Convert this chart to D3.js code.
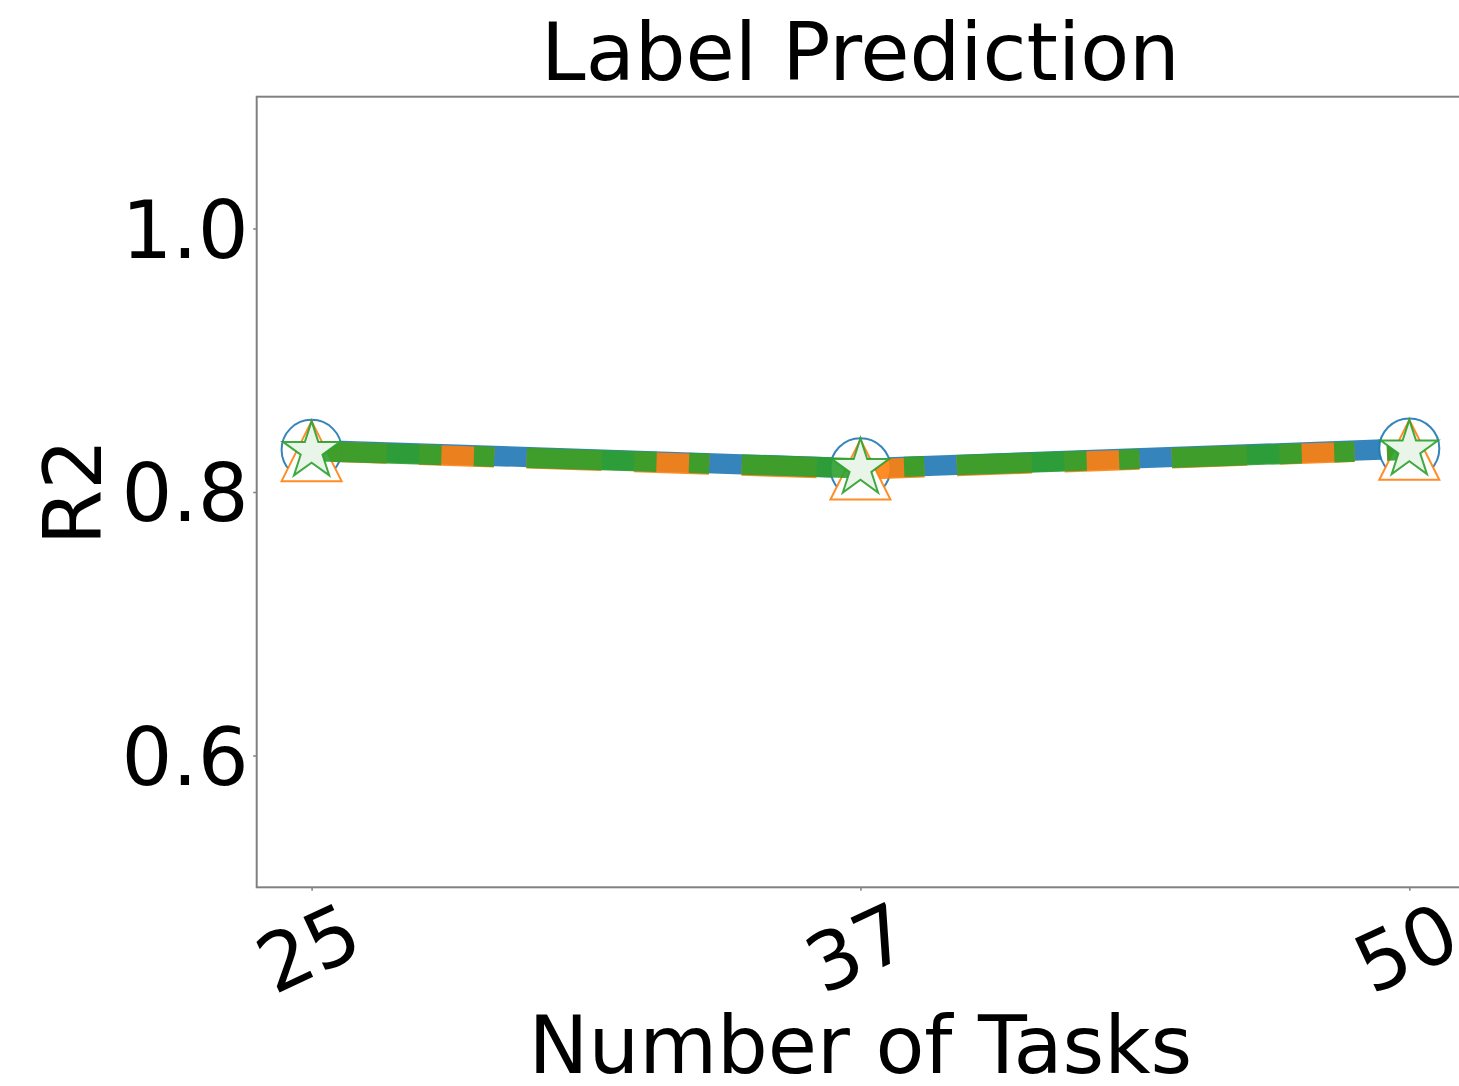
<!DOCTYPE html>
<html>
<head>
<meta charset="utf-8">
<script src="https://cdn.jsdelivr.net/npm/d3@7/dist/d3.min.js"></script>
<style>
  html, body { margin: 0; padding: 0; background: #fff; }
  svg { display: block; }
</style>
</head>
<body>
<svg id="chart" width="1459" height="1086"></svg>
<script>
// x categories (number of tasks) and the three R2 series
const taskCounts = ["25", "37", "50"];
const seriesA = [0.832, 0.818, 0.833];   // blue, circles, solid
const seriesB = [0.831, 0.817, 0.832];   // orange, triangles, dashed
const seriesC = [0.831, 0.818, 0.832];   // green, stars, dash-dot
const yTicks = [0.6, 0.8, 1.0];

const FONT = "DejaVu Sans, sans-serif";
const LW = 20.3;            // line width in px
const MARKER_R = 30;        // marker half-size
const FRAME = "#808080";

const svg = d3.select("#chart");
const width = 1459;
const height = 1086;

svg.append("rect").attr("width", width).attr("height", height).attr("fill", "#fff");

// axes box (right side runs past the picture edge)
const box = { left: 256.7, right: 1464.2, top: 96.7, bottom: 887.3 };

const x = d3.scaleLinear().domain([-0.1, 2.1]).range([box.left, box.right]);
const y = d3.scaleLinear().domain([0.5, 1.1]).range([box.bottom, box.top]);

const series = [
  { values: seriesA, color: "#1f77b4", dash: null, marker: "circle", face: "#ffffff" },
  { values: seriesB, color: "#ff7f0e", dash: [3.7, 1.6], marker: "triangle", face: "#ffffff" },
  { values: seriesC, color: "#2ca02c", dash: [6.4, 1.6, 1.0, 1.6], marker: "star", face: "#eaf5ea" }
];

const line = d3.line()
    .x((d, i) => x(i))
    .y(d => y(d));

function markerPath(kind, r) {
  if (kind === "circle") {
    const p = d3.path();
    p.arc(0, 0, r, 0, 2 * Math.PI);
    p.closePath();
    return p.toString();
  }
  if (kind === "triangle") {
    return `M0,${-r}L${-r},${r}L${r},${r}Z`;
  }
  // five point star, inner radius ratio like matplotlib
  const inner = r * 0.381966;
  const pts = d3.range(10).map(k => {
    const a = -Math.PI / 2 + k * Math.PI / 5;
    const rr = k % 2 === 0 ? r : inner;
    return [rr * Math.cos(a), rr * Math.sin(a)];
  });
  return "M" + pts.map(p => p.join(",")).join("L") + "Z";
}

const plot = svg.append("g");

// each series: line first, then its markers (matplotlib order)
series.forEach(s => {
  plot.append("path")
      .datum(s.values)
      .attr("d", line)
      .attr("fill", "none")
      .attr("stroke", s.color)
      .attr("stroke-opacity", 0.9)
      .attr("stroke-width", LW)
      .attr("stroke-linejoin", "round")
      .attr("stroke-linecap", "butt")
      .attr("stroke-dasharray", s.dash ? s.dash.map(v => v * LW).join(",") : null);

  plot.append("g")
    .selectAll("path")
    .data(s.values)
    .join("path")
      .attr("transform", (d, i) => `translate(${x(i)},${y(d)})`)
      .attr("d", markerPath(s.marker, MARKER_R))
      .attr("fill", s.face)
      .attr("stroke", s.color)
      .attr("stroke-opacity", 0.9)
      .attr("stroke-width", 2)
      .attr("stroke-linejoin", "miter");
});

// frame
svg.append("rect")
    .attr("x", box.left)
    .attr("y", box.top)
    .attr("width", box.right - box.left)
    .attr("height", box.bottom - box.top)
    .attr("fill", "none")
    .attr("stroke", FRAME)
    .attr("stroke-width", 2);

// y axis
const yAxis = svg.append("g")
    .attr("transform", `translate(${box.left},0)`)
    .call(d3.axisLeft(y).tickValues(yTicks).tickSize(3.5).tickFormat(d3.format(".1f")));
yAxis.select(".domain").remove();
yAxis.selectAll(".tick line").attr("stroke", FRAME).attr("stroke-width", 1.5);
yAxis.selectAll(".tick text")
    .attr("x", -8)
    .attr("dy", "0.36em")
    .attr("fill", "#000")
    .style("font-family", FONT)
    .style("font-size", "80px");

// x axis
const xAxis = svg.append("g")
    .attr("transform", `translate(0,${box.bottom})`)
    .call(d3.axisBottom(x).tickValues([0, 1, 2]).tickSize(3.5).tickFormat(i => taskCounts[i]));
xAxis.select(".domain").remove();
xAxis.selectAll(".tick line").attr("stroke", FRAME).attr("stroke-width", 1.5);
xAxis.selectAll(".tick text")
    .attr("x", null)
    .attr("y", null)
    .attr("dy", "0.36em")
    .attr("text-anchor", "middle")
    .attr("transform", "translate(-4,60) rotate(-25)")
    .attr("fill", "#000")
    .style("font-family", FONT)
    .style("font-size", "80px");

// title and axis labels
svg.append("text")
    .attr("x", (box.left + box.right) / 2)
    .attr("y", 80)
    .attr("text-anchor", "middle")
    .style("font-family", FONT)
    .style("font-size", "80px")
    .text("Label Prediction");

svg.append("text")
    .attr("x", (box.left + box.right) / 2)
    .attr("y", 1073)
    .attr("text-anchor", "middle")
    .style("font-family", FONT)
    .style("font-size", "80px")
    .text("Number of Tasks");

svg.append("text")
    .attr("transform", `translate(101,${(box.top + box.bottom) / 2}) rotate(-90)`)
    .attr("text-anchor", "middle")
    .style("font-family", FONT)
    .style("font-size", "80px")
    .text("R2");
</script>
</body>
</html>
